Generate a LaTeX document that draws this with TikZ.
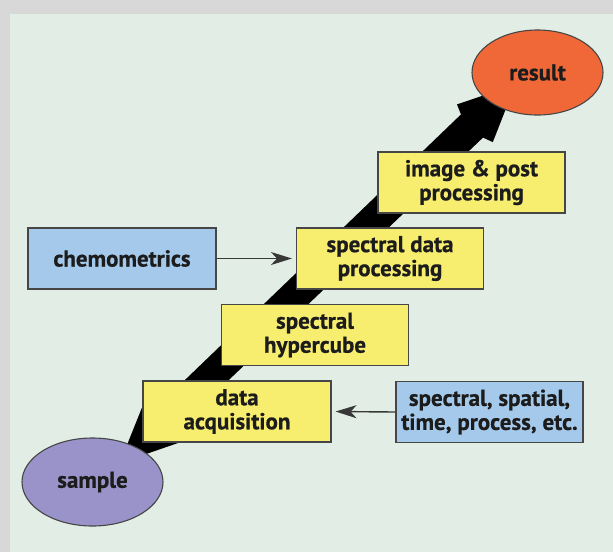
\documentclass[tikz,border=0pt]{standalone}
\usepackage{fontspec}
\setmainfont{PT Sans}[BoldFeatures={FakeBold=0.6}]
\usetikzlibrary{shapes.geometric,arrows.meta,backgrounds}

\definecolor{framegray}{RGB}{216,216,216}
\definecolor{panelmint}{RGB}{225,237,229}
\definecolor{boxyellow}{RGB}{247,238,112}
\definecolor{boxblue}{RGB}{165,201,234}
\definecolor{resultorange}{RGB}{240,104,56}
\definecolor{samplelilac}{RGB}{153,147,201}
\definecolor{edgegray}{RGB}{70,70,70}
\definecolor{inkdark}{RGB}{28,28,28}

\tikzset{
  labeltext/.style={font=\fontsize{23}{24}\selectfont\bfseries, text=inkdark, align=center},
  stepbox/.style={labeltext, rectangle, draw=edgegray, line width=1.1pt, fill=boxyellow,
    minimum width=187pt, minimum height=61pt, inner sep=0pt},
  inputbox/.style={stepbox, fill=boxblue},
  endpoint/.style={labeltext, ellipse, draw=edgegray, line width=1.1pt,
    inner sep=0pt},
  feed/.style={draw=edgegray!80!black, line width=1.4pt,
    -{Stealth[length=21pt, width=13pt, inset=6pt]}, shorten >=4pt}
}

\begin{document}
\begin{tikzpicture}[x=1pt, y=-1pt]
  \useasboundingbox (0,0) rectangle (613,552);

  % end points of the workflow
  \node[endpoint, fill=resultorange, minimum width=131pt, minimum height=85pt] (result) at (537.5,72.5) {result};
  \node[endpoint, fill=samplelilac, minimum width=141pt, minimum height=88pt] (sample) at (92.5,482) {sample};

  % processing steps
  \node[stepbox] (ipp) at (471.5,182.5) {image \& post\\processing};
  \node[stepbox] (sdp) at (390,258.5) {spectral data\\processing};
  \node[stepbox] (hyp) at (315,335) {spectral\\hypercube};
  \node[stepbox, minimum width=188pt] (daq) at (237,411.5) {data\\acquisition};

  % inputs
  \node[inputbox, minimum width=188pt] (chem) at (122,258.5) {chemometrics};
  \node[inputbox] (ssp) at (489.5,412) {spectral, spatial,\\time, process, etc.};

  \draw[feed] (chem.east) -- (sdp.west);
  \draw[feed] (ssp.west) -- (daq.east);

  \begin{pgfonlayer}{background}
    \fill[framegray] (0,0) rectangle (613,552);
    \fill[panelmint] (10,14) rectangle (613,552);
    % double-headed workflow arrow from sample to result
    \fill[black]
      (119.8,463.1) -- (178,443) -- (170.7,435.4) -- (483,137.6)
      -- (492.8,142.1) -- (515.4,84.6) -- (457,104.4) -- (461,114.4)
      -- (150,413.6) -- (142.6,406) -- cycle;
  \end{pgfonlayer}
\end{tikzpicture}
\end{document}
